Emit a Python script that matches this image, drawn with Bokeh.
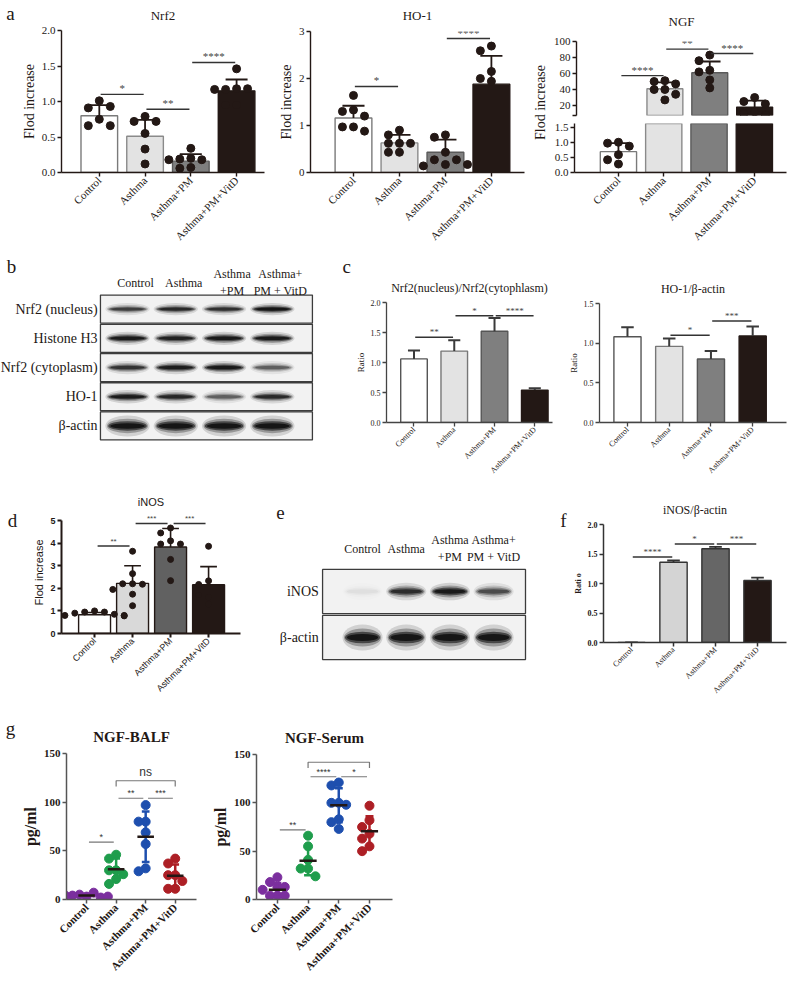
import math
from bokeh.plotting import figure
from bokeh.models import Range1d, FixedTicker, PrintfTickFormatter
from bokeh.layouts import row, column
from bokeh.core.properties import value
from bokeh.embed import file_html
from bokeh.resources import INLINE

SERIF = "Liberation Serif"
SANS = "Liberation Sans"
INK = "#231815"

GROUPS = ["Control", "Asthma", "Asthma+PM", "Asthma+PM+VitD"]
XPOS = [0, 1, 2, 3]

# ---------------- panel a ----------------
nrf2_mean = [0.80, 0.51, 0.16, 1.15]
nrf2_sd = [0.15, 0.23, 0.10, 0.16]
nrf2_pts = [[1.01, 0.91, 0.93, 0.75, 0.66, 0.66],
            [0.79, 0.72, 0.72, 0.55, 0.33, 0.12],
            [0.34, 0.20, 0.19, 0.18, 0.18, 0.07, 0.06],
            [1.46, 1.18, 1.17, 1.18, 1.17, 0.95, 0.95]]
nrf2_sig = [(0, 1, 1.10, "*"), (1, 2, 0.89, "**"), (2, 3, 1.55, "****")]

ho1_mean = [1.16, 0.63, 0.43, 1.88]
ho1_sd = [0.26, 0.17, 0.27, 0.60]
ho1_pts = [[1.64, 1.33, 1.30, 1.20, 0.97, 0.97, 0.88],
           [0.90, 0.80, 0.62, 0.62, 0.62, 0.43, 0.43],
           [0.80, 0.75, 0.43, 0.27, 0.27, 0.17, 0.14, 0.17],
           [2.69, 2.59, 2.15, 2.00, 1.94]]
ho1_sig = [(0, 1, 1.83, "*"), (2, 3, 2.85, "****")]

ngf_mean = [0.69, 41.0, 61.0, 18.0]
ngf_sd = [0.28, 8.0, 14.0, 8.0]
ngf_pts = [[1.00, 0.97, 0.87, 0.59, 0.42, 0.28],
           [51, 50, 47, 40, 40, 34, 27],
           [83, 76, 64, 62, 52, 42],
           [30, 25, 22, 12, 10, 8]]
ngf_sig = [(0, 1, 57.4, "****"), (1, 2, 90.5, "**"), (2, 3, 85.0, "****")]

# ---------------- panels b / e (western blots, relative band intensity) ----------------
b_rows = ["Nrf2 (nucleus)", "Histone H3", "Nrf2 (cytoplasm)", "HO-1", "β-actin"]
blot_lanes = ["Control", "Asthma", "Asthma\n+PM", "Asthma+\nPM + VitD"]
b_bands = [[0.62, 0.78, 0.72, 1.00],
           [0.92, 0.85, 0.95, 0.92],
           [0.70, 0.90, 0.95, 0.45],
           [0.92, 0.80, 0.45, 0.78],
           [1.00, 1.00, 1.00, 1.00]]
e_rows = ["iNOS", "β-actin"]
e_bands = [[0.04, 0.75, 0.95, 0.55],
           [1.00, 1.00, 1.00, 1.00]]

# ---------------- panel c ----------------
c1_mean = [1.06, 1.19, 1.52, 0.54]
c1_sd = [0.14, 0.18, 0.22, 0.03]
c1_sig = [(0, 1, 1.42, "**"), (1, 2, 1.78, "*"), (2, 3, 1.78, "****")]
c2_mean = [1.08, 0.96, 0.80, 1.09]
c2_sd = [0.12, 0.10, 0.10, 0.12]
c2_sig = [(1, 2, 1.10, "*"), (2, 3, 1.28, "***")]

# ---------------- panel d ----------------
inos_mean = [0.83, 2.22, 3.83, 2.16]
inos_sd = [0.10, 0.78, 0.82, 0.80]
inos_pts = [[1.00, 0.95, 0.95, 0.90, 0.85, 0.80, 0.80, 0.78],
            [3.64, 2.65, 2.20, 2.20, 2.18, 1.95, 1.74, 1.23],
            [4.67, 4.45, 4.10, 3.96, 3.96, 3.28, 2.34],
            [3.86, 2.33, 2.17, 1.60, 1.30, 1.70]]
inos_sig = [(0, 1, 3.87, "**"), (1, 2, 4.87, "***"), (2, 3, 4.87, "***")]

# ---------------- panel f ----------------
f_mean = [0.0, 1.36, 1.59, 1.05]
f_sd = [0.0, 0.03, 0.03, 0.05]
f_sig = [(0, 1, 1.45, "****"), (1, 2, 1.67, "*"), (2, 3, 1.67, "***")]

# ---------------- panel g ----------------
balf_pts = [[3, 5, 7, 4, 2, 4, 3],
            [46, 42, 30, 30, 26, 21, 16],
            [97, 80, 80, 69, 57, 32, 29],
            [42, 37, 25, 25, 19, 11, 11]]
balf_mean = [4.0, 31.0, 64.5, 24.5]
balf_sd = [1.5, 11.0, 26.0, 11.5]
balf_sig = [(0, 1, 59, "*"), (1, 2, 104, "**"), (2, 3, 104, "***")]
balf_bracket = [(1, 3, 122, "ns")]

serum_pts = [[23, 18, 13, 13, 10, 4, 4, 4],
             [66, 55, 41, 32, 32, 24],
             [121, 118, 100, 100, 98, 83, 80, 73],
             [97, 82, 75, 68, 63, 55, 50]]
serum_mean = [10.0, 40.0, 97.5, 70.5]
serum_sd = [7.0, 15.0, 17.5, 15.5]
serum_sig = [(0, 1, 72, "**"), (1, 2, 127, "****"), (2, 3, 127, "*")]
serum_bracket = [(1, 3, 142, "**")]

BAR_FILL = ["white", "#e3e3e3", "#7f7f7f", "#231815"]
BAR_LINE = ["#7a7a7a", "#8a8a8a", "#5a5a5a", "#231815"]
G_COL = ["#7b2f9e", "#1f9d4c", "#1e4fae", "#ad1f25"]


# ---------------- helpers ----------------
def swarm(groups, ppu, step, thr=8.0):
    xs, ys = [], []
    for gi, vals in enumerate(groups):
        placed = []
        for v in vals:
            k = 0
            for k in (0, -1, 1, -2, 2, -3, 3):
                if all(abs(k - pk) >= 1 or abs(v - pv) * ppu >= thr for pk, pv in placed):
                    break
            placed.append((k, v))
            xs.append(gi + k * step)
            ys.append(v)
    return xs, ys


def bare(w, h, xr, yr):
    p = figure(width=w, height=h, x_range=Range1d(*xr), y_range=Range1d(*yr),
               output_backend="svg", toolbar_location=None,
               x_axis_location=None, y_axis_location=None, min_border=0)
    p.outline_line_color = None
    p.grid.visible = False
    p.frame_align = False
    return p


def strip(w, h, text, x, y):
    p = bare(w, h, (0, w), (h, 0))
    p.text(x=[x], y=[y], text=[text], text_align="center", text_baseline="middle",
           text_font=value(SERIF), text_font_size="19px", text_color=INK)
    return p


def panel(w, h, ml, mr, mt, mb, xr, yr, yticks, yfmt, font, tick_size, xtick_size,
          bold=False, axis_color=INK, axis_w=1.4, ylabel=None, ylabel_size="14px",
          title=None, title_size="13px", title_standoff=8, title_bold=False, show_x=True,
          ybounds=None):
    p = figure(width=w, height=h, x_range=Range1d(*xr), y_range=Range1d(*yr),
               output_backend="svg", toolbar_location=None,
               x_axis_location="below" if show_x else None,
               min_border_left=ml, min_border_right=mr,
               min_border_top=mt, min_border_bottom=mb)
    p.frame_align = False
    p.outline_line_color = None
    p.grid.visible = False
    style = "bold" if bold else "normal"
    for ax in p.axis:
        ax.axis_line_color = axis_color
        ax.axis_line_width = axis_w
        ax.major_tick_line_color = axis_color
        ax.major_tick_line_width = axis_w
        ax.major_tick_out = 4
        ax.major_tick_in = 0
        ax.minor_tick_line_color = None
        ax.major_label_text_font = font
        ax.major_label_text_font_size = tick_size
        ax.major_label_text_font_style = style
        ax.major_label_text_color = INK
        ax.major_label_standoff = 2
        ax.axis_label_text_font = font
        ax.axis_label_text_font_style = style
        ax.axis_label_text_color = INK
    p.yaxis.ticker = FixedTicker(ticks=yticks)
    p.yaxis.formatter = PrintfTickFormatter(format=yfmt)
    if ybounds is not None:
        p.yaxis.bounds = ybounds
    if show_x:
        p.xaxis.ticker = FixedTicker(ticks=XPOS)
        p.xaxis.major_label_overrides = {x: g for x, g in zip(XPOS, GROUPS)}
        p.xaxis.major_label_orientation = math.pi / 4
        p.xaxis.major_label_text_font_size = xtick_size
    if ylabel:
        p.yaxis.axis_label = ylabel
        p.yaxis.axis_label_text_font_size = ylabel_size
        p.yaxis.axis_label_standoff = 2
    if title:
        p.title.text = title
        p.title.align = "center"
        p.title.vertical_align = "top"
        p.title.text_font = font
        p.title.text_font_size = title_size
        p.title.text_font_style = "bold" if title_bold else "normal"
        p.title.text_color = INK
        p.title.standoff = title_standoff
    return p


def bars(p, means, sds, bw, cap, fills=BAR_FILL, lines=BAR_LINE, err_color=INK, err_w=1.8,
         lw=1.4, floor=None):
    idx = [i for i in XPOS if floor is None or means[i] > floor]
    xs = [XPOS[i] for i in idx]
    m = [means[i] for i in idx]
    tops = [means[i] + sds[i] for i in idx]
    p.vbar(x=xs, top=m, width=bw, fill_color=[fills[i] for i in idx],
           line_color=[lines[i] for i in idx], line_width=lw)
    p.segment(x0=xs, y0=m, x1=xs, y1=tops, line_color=err_color, line_width=err_w)
    p.segment(x0=[x - cap for x in xs], y0=tops, x1=[x + cap for x in xs], y1=tops,
              line_color=err_color, line_width=err_w)


def sig(p, items, font, size, color="#444444", lw=1.4, inset=0.03, line_color="#333333"):
    for a, b, y, t in items:
        p.segment(x0=[a + inset], y0=[y], x1=[b - inset], y1=[y], line_color=line_color, line_width=lw)
    p.text(x=[(a + b) / 2 for a, b, y, t in items], y=[y for a, b, y, t in items],
           text=[t for a, b, y, t in items], text_align="center", text_baseline="bottom",
           text_font=value(font), text_font_size=size, text_color=color)


def blot(w, h, xr, yr, box, rows, bands, band_w, band_h, label_x, header_y, header_dx, letters):
    p = bare(w, h, xr, yr)
    ri = list(range(len(rows)))
    p.quad(left=[box[0]] * len(ri), right=[box[1]] * len(ri),
           top=[r - 0.48 for r in ri], bottom=[r + 0.48 for r in ri],
           fill_color="#f2f2f2", line_color="#3c3c3c", line_width=1.3)
    bx, by, bi, bh = [], [], [], []
    for r in ri:
        for l in range(len(blot_lanes)):
            bx.append(l)
            by.append(r)
            bi.append(bands[r][l])
            bh.append(band_h[r])
    for wf, hf, af in [(1.08, 1.9, 0.15), (1.0, 1.3, 0.3), (0.94, 0.85, 0.6), (0.84, 0.5, 0.9)]:
        p.ellipse(x=bx, y=by, width=[band_w * wf] * len(bx), height=[v * hf for v in bh],
                  fill_color="#111111", fill_alpha=[min(1.0, i * af) for i in bi], line_color=None)
    p.text(x=[label_x] * len(ri), y=ri, text=rows, text_align="right", text_baseline="middle",
           text_font=value(SERIF), text_font_size="14px", text_color=INK)
    p.text(x=XPOS, y=[header_y] * 4, text=blot_lanes, text_align="center", text_baseline="middle",
           text_font=value(SERIF), text_font_size="12px", text_color=INK, x_offset=header_dx)
    p.text(x=[l[1] for l in letters], y=[l[2] for l in letters], text=[l[0] for l in letters],
           text_align="center", text_baseline="middle", text_font=value(SERIF),
           text_font_size="19px", text_color=INK)
    return p


# ---------------- row 1: panel a ----------------
a_strip = strip(18, 255, "a", 10, 13)

a1 = panel(248, 255, 42, 2, 30, 83, (-0.826, 3.61), (0, 2.0), [0, 0.5, 1.0, 1.5, 2.0], "%.1f",
           SERIF, "11px", "11px", ylabel="Flod increase", ylabel_size="14px", title="Nrf2",
           title_size="13px", title_standoff=12)
bars(a1, nrf2_mean, nrf2_sd, 0.8, 0.24)
xs, ys = swarm(nrf2_pts, 71, 0.24)
a1.scatter(x=xs, y=ys, size=8, color=INK)
sig(a1, nrf2_sig, SERIF, "11px")

a2 = panel(260, 255, 44, 2, 31, 83, (-0.935, 3.72), (0, 3), [0, 1, 2, 3], "%d",
           SERIF, "11px", "11px", ylabel="Flod increase", ylabel_size="14px", title="HO-1",
           title_size="13px", title_standoff=13)
bars(a2, ho1_mean, ho1_sd, 0.8, 0.24)
xs, ys = swarm(ho1_pts, 46.7, 0.24)
a2.scatter(x=xs, y=ys, size=8, color=INK)
sig(a2, ho1_sig, SERIF, "11px")

ngf_lab = bare(24, 255, (0, 1), (0, 1))
ngf_lab.text(x=[0.6], y=[0.6], text=["Flod increase"], angle=math.pi / 2, text_align="center",
             text_baseline="middle", text_font=value(SERIF), text_font_size="14px", text_color=INK)

ngf_top = panel(246, 119, 24, 10, 41, 4, (-0.97, 3.71), (7.5, 100), [7.5, 20, 40, 60, 80, 100], "%d",
                SERIF, "11px", "11px", title="NGF", title_size="13px", title_standoff=21, show_x=False)
ngf_top.yaxis.major_label_overrides = {7.5: ""}
bars(ngf_top, ngf_mean, ngf_sd, 0.8, 0.24, floor=7.5)
xs, ys = swarm([[]] + ngf_pts[1:], 0.80, 0.24)
ngf_top.scatter(x=xs, y=ys, size=8, color=INK)
sig(ngf_top, ngf_sig, SERIF, "11px")

ngf_bot = panel(246, 136, 24, 10, 4, 83, (-0.97, 3.71), (0, 1.62), [0, 0.5, 1.0, 1.5], "%.1f",
                SERIF, "11px", "11px")
bars(ngf_bot, ngf_mean, ngf_sd, 0.8, 0.24)
xs, ys = swarm([ngf_pts[0]], 30.2, 0.24)
ngf_bot.scatter(x=xs, y=ys, size=8, color=INK)

# ---------------- row 2: panels b, c ----------------
bfig = blot(352, 235, (-2.63, 4.66), (6.21, -1.836), (-0.56, 3.83), b_rows, b_bands, 0.85,
            [0.22, 0.24, 0.24, 0.24, 0.38], -0.62, -0.9, 8,
            [("b", -2.40, -1.47), ("c", 4.54, -1.47)])

c1 = panel(210, 235, 31, 10, 47, 68, (-0.683, 3.44), (0, 2.0), [0, 0.5, 1.0, 1.5, 2.0], "%.1f",
           SERIF, "8px", "8px", axis_color="#444444", axis_w=1.3, ylabel="Ratio", ylabel_size="9px",
           title="Nrf2(nucleus)/Nrf2(cytophlasm)", title_size="12px", title_standoff=12)
bars(c1, c1_mean, c1_sd, 0.66, 0.15, lines=["#555555", "#777777", "#555555", INK],
     err_color="#3a3a3a", err_w=2)
sig(c1, c1_sig, SERIF, "9px", lw=1.5)

c2 = panel(234, 235, 37, 10, 48, 68, (-0.67, 3.81), (0, 1.5), [0, 0.5, 1.0, 1.5], "%.1f",
           SERIF, "8px", "8px", axis_color="#444444", axis_w=1.3, ylabel="Ratio", ylabel_size="9px",
           title="HO-1/β-actin", title_size="12px", title_standoff=12)
bars(c2, c2_mean, c2_sd, 0.65, 0.15, lines=["#555555", "#777777", "#555555", INK],
     err_color="#3a3a3a", err_w=2)
sig(c2, c2_sig, SERIF, "9px", lw=1.5)

# ---------------- row 3: panels d, e, f ----------------
d_strip = strip(22, 210, "d", 12, 30)

d = panel(240, 210, 39, 22, 21, 62, (-0.87, 3.84), (0, 5.4), [0, 1, 2, 3, 4, 5], "%d",
          SANS, "9px", "9px", axis_w=2, ylabel="Flod increase", ylabel_size="11px",
          title="iNOS", title_size="11px", title_standoff=3, ybounds=(0, 5))
d.yaxis.major_label_text_font_style = "bold"
bars(d, inos_mean, inos_sd, 0.84, 0.22, fills=["white", "#d9d9d9", "#616161", INK],
     lines=[INK] * 4, err_color=INK, err_w=1.6)
xs, ys = swarm(inos_pts, 23.5, 0.26, thr=7)
d.scatter(x=xs, y=ys, size=6, color=INK)
sig(d, inos_sig, SANS, "8px", inset=0.08)

efig = blot(308, 210, (-2.29, 4.76), (2.37, -2.196), (-0.915, 3.73), e_rows, e_bands, 0.85,
            [0.2, 0.3], -1.0, -0.93, 0, [("e", -1.88, -1.72), ("f", 4.6, -1.54)])

f = panel(226, 210, 33, 10, 34, 56, (-0.667, 3.69), (0, 2.0), [0, 0.5, 1.0, 1.5, 2.0], "%.1f",
          SERIF, "8px", "8px", bold=True, axis_color="#333333", axis_w=1.5, ylabel="Rati o",
          ylabel_size="8px", title="iNOS/β-actin", title_size="12px", title_standoff=12)
f.xaxis.major_label_text_font_style = "normal"
bars(f, f_mean, f_sd, 0.65, 0.15, fills=["white", "#d4d4d4", "#666666", INK],
     lines=["#333333"] * 4, err_color="#333333", err_w=1.8)
sig(f, f_sig, SERIF, "9px", lw=1.5)


# ---------------- row 4: panel g ----------------
def dotplot(w, ml, mr, mt, xr, pts, means, sds, sigs, brackets, title):
    p = panel(w, 281, ml, mr, mt, 82, xr, (0, 150), [0, 50, 100, 150], "%d", SERIF, "11px", "11px",
              bold=True, axis_color="#555555", axis_w=1.5, ylabel="pg/ml", ylabel_size="16px",
              title=title, title_size="15px", title_standoff=14, title_bold=True)
    xs, ys = swarm(pts, 0.973, 0.24, thr=8)
    cols = [G_COL[gi] for gi, vals in enumerate(pts) for v in vals]
    p.scatter(x=xs, y=ys, size=9, color=cols)
    lo = [m - s for m, s in zip(means, sds)]
    hi = [m + s for m, s in zip(means, sds)]
    p.segment(x0=XPOS, y0=lo, x1=XPOS, y1=hi, line_color=G_COL, line_width=2.5)
    for yy in (lo, hi):
        p.segment(x0=[x - 0.13 for x in XPOS], y0=yy, x1=[x + 0.13 for x in XPOS], y1=yy,
                  line_color=G_COL, line_width=2.5)
    p.segment(x0=[x - 0.28 for x in XPOS], y0=means, x1=[x + 0.28 for x in XPOS], y1=means,
              line_color=INK, line_width=2.5)
    sig(p, sigs, SANS, "9px", color="#333333", lw=1.2, inset=0.08, line_color="#777777")
    for a, b, y, t in brackets:
        p.multi_line(xs=[[a, a, b, b]], ys=[[y - 6, y, y, y - 6]], line_color="#777777", line_width=1.2)
    p.text(x=[(a + b) / 2 for a, b, y, t in brackets], y=[y + 2 for a, b, y, t in brackets],
           text=[t for a, b, y, t in brackets], text_align="center", text_baseline="bottom",
           text_font=value(SANS), text_font_size="12px", text_color="#333333")
    return p


g_strip = strip(18, 281, "g", 10, 28)
g1 = dotplot(182, 43, 4, 53, (-0.68, 3.72), balf_pts, balf_mean, balf_sd, balf_sig, balf_bracket,
             "NGF-BALF")
g2 = dotplot(200, 56, 8, 54, (-0.68, 3.75), serum_pts, serum_mean, serum_sd, serum_sig,
             serum_bracket, "NGF-Serum")

layout = column(
    row(a_strip, a1, a2, ngf_lab, column(ngf_top, ngf_bot)),
    row(bfig, c1, c2),
    row(d_strip, d, efig, f),
    row(g_strip, g1, g2),
)

open("out.html", "w").write(file_html(layout, INLINE))
